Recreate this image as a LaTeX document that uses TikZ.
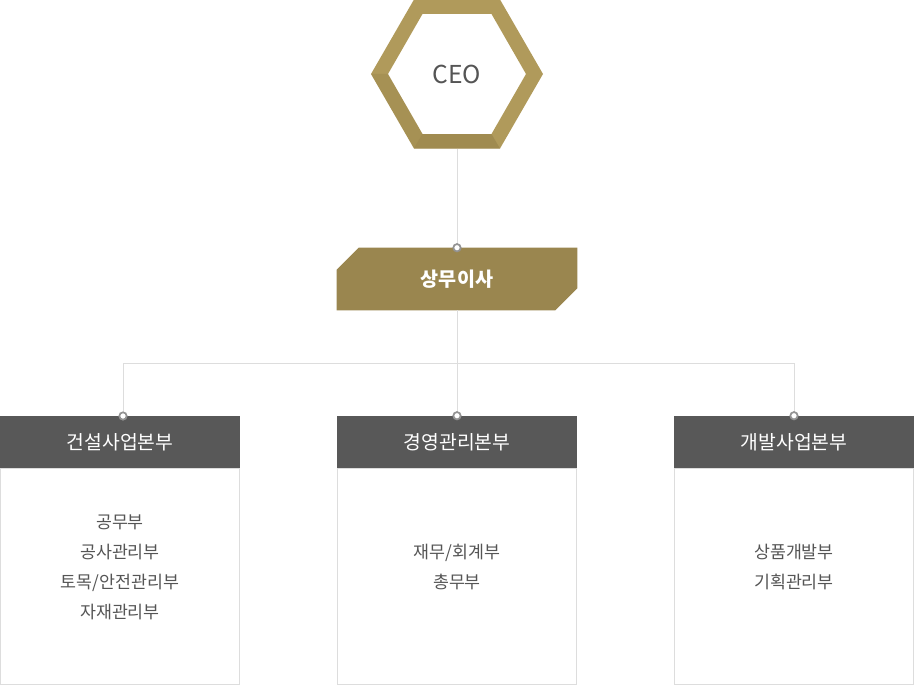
\documentclass[tikz,border=0pt]{standalone}
\usepackage{fontspec}
\setmainfont{Noto Sans CJK KR}
\definecolor{hexgold}{HTML}{B09A5B}
\definecolor{hexshade}{HTML}{7E6A38}
\definecolor{execgold}{HTML}{9A864F}
\definecolor{headgrey}{HTML}{585858}
\definecolor{linegrey}{HTML}{DDDDDD}
\definecolor{textgrey}{HTML}{555555}
\tikzset{
  conn/.style = {draw=linegrey, line width=0.75pt},
  joint/.style = {circle, draw=gray!85, fill=white, line width=1.3pt, inner sep=0pt, minimum size=5.5pt},
  dept/.style = {fill=headgrey, text=white, font=\fontsize{14.5}{17}\selectfont, minimum width=180pt, minimum height=39pt, inner sep=0pt},
  deptbody/.style = {draw=linegrey, line width=0.75pt, fill=white},
  units/.style = {text=textgrey, align=center, font=\fontsize{13}{22.5}\selectfont}
}
\begin{document}
\begin{tikzpicture}[x=0.75pt, y=-0.75pt]
  \useasboundingbox (0,0) rectangle (914,685);
  % CEO hexagon
  \fill[hexgold, even odd rule]
    (543,74) -- (500,148.5) -- (414,148.5) -- (371,74) -- (414,-0.5) -- (500,-0.5) -- cycle
    (526,74) -- (491.5,134) -- (422.5,134) -- (388,74) -- (422.5,14) -- (491.5,14) -- cycle;
  \fill[hexshade, opacity=0.18] (371,74) -- (388,74) -- (422.5,134) -- (414,148.5) -- cycle;
  \fill[hexshade, opacity=0.3] (414,148.5) -- (422.5,134) -- (491.5,134) -- (500,148.5) -- cycle;
  \node[minimum width=129pt, minimum height=111.75pt, inner sep=0pt, text=textgrey,
    font=\fontsize{18.5}{22}\selectfont] (ceo) at (457,74) {CEO};
  % executive
  \node[minimum width=180pt, minimum height=46.5pt, inner sep=0pt] (exec) at (457,279) {};
  \fill[execgold] ([xshift=16.5pt]exec.north west) -- (exec.north east) -- ([yshift=16.5pt]exec.south east)
    -- ([xshift=-16.5pt]exec.south east) -- (exec.south west) -- ([yshift=-16.5pt]exec.north west) -- cycle;
  \node[text=white, font=\bfseries\fontsize{14.7}{17}\selectfont] at (exec) {상무이사};
  % divisions
  \draw[deptbody] (0.5,468) rectangle (239.5,684);
  \draw[deptbody] (337.5,468) rectangle (576.5,684);
  \draw[deptbody] (674.5,468) rectangle (913.5,684);
  \node[dept] (build) at (120,442) {건설사업본부};
  \node[dept] (manage) at (457,442) {경영관리본부};
  \node[dept] (devel) at (794,442) {개발사업본부};
  \node[units] (buildunits) at (120,567) {공무부\\공사관리부\\토목/안전관리부\\자재관리부};
  \node[units] (manageunits) at (457,567) {재무/회계부\\총무부};
  \node[units] (develunits) at (794,567) {상품개발부\\기획관리부};
  % connectors
  \coordinate (hub) at (457,363);
  \coordinate (buildtop) at (123,416);
  \draw[conn] (ceo.south) -- (exec.north);
  \draw[conn] (exec.south) -- (hub);
  \draw[conn] (hub) -| (buildtop);
  \draw[conn] (hub) -| (devel.north);
  \draw[conn] (hub) -- (manage.north);
  \node[joint] at (exec.north) {};
  \node[joint] at (buildtop) {};
  \node[joint] at (manage.north) {};
  \node[joint] at (devel.north) {};
\end{tikzpicture}
\end{document}
